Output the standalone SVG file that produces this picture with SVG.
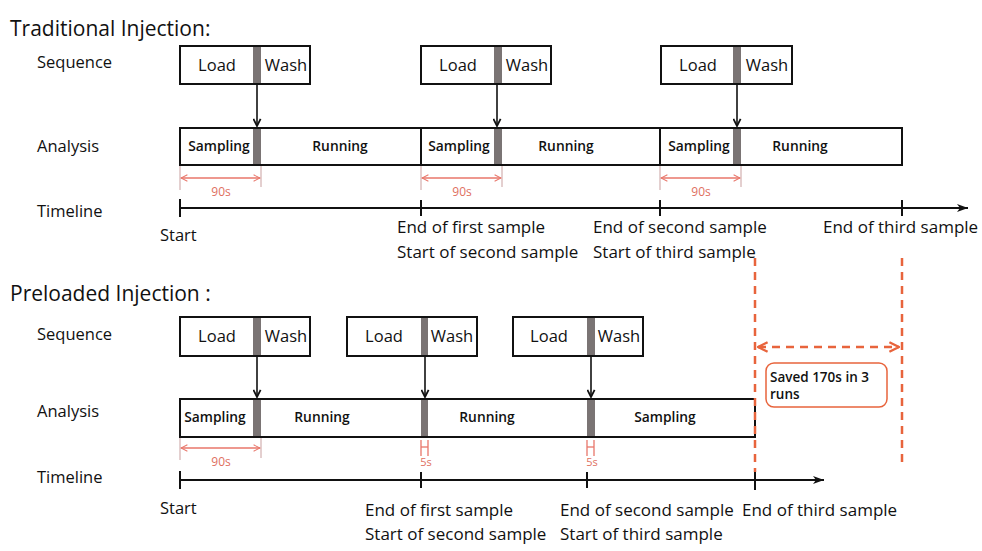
<svg xmlns="http://www.w3.org/2000/svg" width="982" height="551" viewBox="0 0 982 551">
<defs>
<style>
text{font-family:"Open Sans","Noto Sans","DejaVu Sans",sans-serif;fill:#111}
.title{font-size:21px}
.lbl{font-size:16.5px}
.tlb{font-size:17px}
.bx{font-size:16.5px;text-anchor:middle}
.an{font-size:13.8px;font-weight:600;text-anchor:middle}
.box{fill:#fff;stroke:#111;stroke-width:2}
.gray{fill:#7a7474}
.conn{stroke:#111;stroke-width:1.6;fill:none}
.tl{stroke:#111;stroke-width:2;fill:none}
.tick{stroke:#111;stroke-width:2}
.meas{stroke:#e8766a;stroke-width:1.3;fill:none}
.ext{stroke:#c9a0a0;stroke-width:1}
.mt{font-size:12px;fill:#e0705f;text-anchor:middle}
.dash{stroke:#e8643c;stroke-width:2.5;stroke-dasharray:8 6;fill:none}
.note{font-size:13.5px;font-weight:600}
</style>
<marker id="ah" viewBox="0 0 10 10" refX="9" refY="5" markerWidth="9" markerHeight="9" orient="auto-start-reverse" markerUnits="userSpaceOnUse">
<path d="M1,1 L9,5 L1,9" fill="none" stroke="#111" stroke-width="2"/>
</marker>
<marker id="tah" viewBox="0 0 12 10" refX="11" refY="5" markerWidth="12" markerHeight="10" orient="auto" markerUnits="userSpaceOnUse">
<path d="M0,1 L11,5 L0,9 L3,5 Z" fill="#111"/>
</marker>
<marker id="mah" viewBox="0 0 10 10" refX="9" refY="5" markerWidth="8" markerHeight="8" orient="auto-start-reverse" markerUnits="userSpaceOnUse">
<path d="M1,1 L9,5 L1,9" fill="none" stroke="#e8766a" stroke-width="1.3"/>
</marker>
<marker id="oah" viewBox="0 0 10 10" refX="9" refY="5" markerWidth="12" markerHeight="12" orient="auto-start-reverse" markerUnits="userSpaceOnUse">
<path d="M1,1 L9,5 L1,9" fill="none" stroke="#e8643c" stroke-width="2"/>
</marker>
</defs>
<rect width="982" height="551" fill="#fff"/>

<!-- Traditional section -->
<g id="trad-labels">
<text class="title" x="10" y="36">Traditional Injection:</text>
<text class="lbl" x="37" y="68">Sequence</text>
<text class="lbl" x="37" y="152">Analysis</text>
<text class="lbl" x="37" y="217">Timeline</text>
</g>

<g id="trad-seq1">
<rect class="box" x="180" y="46" width="130" height="38"/>
<rect class="gray" x="253" y="47" width="8" height="36"/>
<text class="bx" x="217" y="71">Load</text>
<text class="bx" x="286" y="71">Wash</text>
</g>
<g id="trad-seq2">
<rect class="box" x="421" y="46" width="130" height="38"/>
<rect class="gray" x="494" y="47" width="8" height="36"/>
<text class="bx" x="458" y="71">Load</text>
<text class="bx" x="527" y="71">Wash</text>
</g>
<g id="trad-seq3">
<rect class="box" x="661" y="46" width="131" height="38"/>
<rect class="gray" x="733" y="47" width="8" height="36"/>
<text class="bx" x="698" y="71">Load</text>
<text class="bx" x="767" y="71">Wash</text>
</g>

<g id="trad-analysis">
<rect class="box" x="180" y="128" width="722" height="37"/>
<line class="tick" x1="421" y1="128" x2="421" y2="165"/>
<line class="tick" x1="660" y1="128" x2="660" y2="165"/>
<rect class="gray" x="253" y="129" width="8" height="35"/>
<rect class="gray" x="494" y="129" width="8" height="35"/>
<rect class="gray" x="733" y="129" width="8" height="35"/>
<text class="an" x="219" y="151">Sampling</text>
<text class="an" x="340" y="151">Running</text>
<text class="an" x="459" y="151">Sampling</text>
<text class="an" x="566" y="151">Running</text>
<text class="an" x="699" y="151">Sampling</text>
<text class="an" x="800" y="151">Running</text>
</g>

<g id="trad-measure">
<line class="ext" x1="180" y1="166" x2="180" y2="190"/>
<line class="ext" x1="261" y1="166" x2="261" y2="187"/>
<line class="meas" x1="181" y1="178" x2="260" y2="178" marker-start="url(#mah)" marker-end="url(#mah)"/>
<text class="mt" x="221" y="196">90s</text>
<line class="ext" x1="421" y1="166" x2="421" y2="190"/>
<line class="ext" x1="502" y1="166" x2="502" y2="187"/>
<line class="meas" x1="422" y1="178" x2="501" y2="178" marker-start="url(#mah)" marker-end="url(#mah)"/>
<text class="mt" x="462" y="196">90s</text>
<line class="ext" x1="660" y1="166" x2="660" y2="190"/>
<line class="ext" x1="741" y1="166" x2="741" y2="187"/>
<line class="meas" x1="661" y1="178" x2="740" y2="178" marker-start="url(#mah)" marker-end="url(#mah)"/>
<text class="mt" x="701" y="196">90s</text>
</g>

<g id="trad-timeline">
<line class="tl" x1="180" y1="208" x2="968" y2="208" marker-end="url(#tah)"/>
<line class="tick" x1="180" y1="199" x2="180" y2="217"/>
<line class="tick" x1="421" y1="200" x2="421" y2="216"/>
<line class="tick" x1="660" y1="200" x2="660" y2="216"/>
<line class="tick" x1="902" y1="200" x2="902" y2="216"/>
<text class="lbl" x="160" y="241">Start</text>
<text class="tlb" x="397" y="233">End of first sample</text>
<text class="tlb" x="397" y="258">Start of second sample</text>
<text class="tlb" x="593" y="233">End of second sample</text>
<text class="tlb" x="593" y="258">Start of third sample</text>
<text class="tlb" x="823" y="233">End of third sample</text>
</g>

<!-- Preloaded section -->
<g id="pre-labels">
<text class="title" x="10" y="301">Preloaded Injection :</text>
<text class="lbl" x="37" y="340">Sequence</text>
<text class="lbl" x="37" y="417">Analysis</text>
<text class="lbl" x="37" y="483">Timeline</text>
</g>

<g id="pre-seq1">
<rect class="box" x="180" y="317" width="130" height="39"/>
<rect class="gray" x="253" y="318" width="8" height="37"/>
<text class="bx" x="217" y="342">Load</text>
<text class="bx" x="286" y="342">Wash</text>
</g>
<g id="pre-seq2">
<rect class="box" x="347" y="317" width="130" height="39"/>
<rect class="gray" x="421" y="318" width="7" height="37"/>
<text class="bx" x="384" y="342">Load</text>
<text class="bx" x="452" y="342">Wash</text>
</g>
<g id="pre-seq3">
<rect class="box" x="513" y="317" width="130" height="39"/>
<rect class="gray" x="587" y="318" width="8" height="37"/>
<text class="bx" x="549" y="342">Load</text>
<text class="bx" x="619" y="342">Wash</text>
</g>

<g id="pre-analysis">
<rect class="box" x="180" y="399" width="575" height="38"/>
<rect class="gray" x="253" y="400" width="8" height="36"/>
<rect class="gray" x="421" y="400" width="7" height="36"/>
<rect class="gray" x="587" y="400" width="8" height="36"/>
<text class="an" x="215" y="422">Sampling</text>
<text class="an" x="322" y="422">Running</text>
<text class="an" x="487" y="422">Running</text>
<text class="an" x="665" y="422">Sampling</text>
</g>

<g id="pre-measure">
<line class="ext" x1="180" y1="438" x2="180" y2="460"/>
<line class="ext" x1="261" y1="438" x2="261" y2="458"/>
<line class="meas" x1="181" y1="448" x2="260" y2="448" marker-start="url(#mah)" marker-end="url(#mah)"/>
<text class="mt" x="221" y="466">90s</text>
<line class="meas" x1="421" y1="440" x2="421" y2="456"/>
<line class="meas" x1="428" y1="440" x2="428" y2="456"/>
<line class="meas" x1="421" y1="447" x2="428" y2="447"/>
<text class="mt" x="426" y="466" style="font-size:11px">5s</text>
<line class="meas" x1="587" y1="440" x2="587" y2="456"/>
<line class="meas" x1="594" y1="440" x2="594" y2="456"/>
<line class="meas" x1="587" y1="447" x2="594" y2="447"/>
<text class="mt" x="592" y="466" style="font-size:11px">5s</text>
</g>

<g id="pre-timeline">
<line class="tl" x1="180" y1="480" x2="824" y2="480" marker-end="url(#tah)"/>
<line class="tick" x1="180" y1="471" x2="180" y2="489"/>
<line class="tick" x1="421" y1="472" x2="421" y2="488"/>
<line class="tick" x1="587" y1="472" x2="587" y2="488"/>
<line class="tick" x1="755" y1="471" x2="755" y2="490"/>
<text class="lbl" x="160" y="514">Start</text>
<text class="tlb" x="365" y="516">End of first sample</text>
<text class="tlb" x="365" y="540">Start of second sample</text>
<text class="tlb" x="560" y="516">End of second sample</text>
<text class="tlb" x="560" y="540">Start of third sample</text>
<text class="tlb" x="742" y="516">End of third sample</text>
</g>

<g id="saved-note">
<rect x="766" y="363" width="121" height="44" rx="8" fill="#fff" stroke="#e8643c" stroke-width="1.5"/>
<text class="note" x="770" y="382">Saved 170s in 3</text>
<text class="note" x="770" y="399">runs</text>
</g>

<g id="connectors">
<line class="conn" x1="257" y1="85" x2="257" y2="126" marker-end="url(#ah)"/>
<line class="conn" x1="497" y1="85" x2="497" y2="126" marker-end="url(#ah)"/>
<line class="conn" x1="737" y1="85" x2="737" y2="126" marker-end="url(#ah)"/>
<line class="conn" x1="257" y1="357" x2="257" y2="397" marker-end="url(#ah)"/>
<line class="conn" x1="425" y1="357" x2="425" y2="397" marker-end="url(#ah)"/>
<line class="conn" x1="591" y1="357" x2="591" y2="397" marker-end="url(#ah)"/>
<line class="dash" x1="755" y1="258" x2="755" y2="472"/>
<line class="dash" x1="902" y1="258" x2="902" y2="468"/>
<line class="dash" x1="758" y1="347" x2="899" y2="347" marker-start="url(#oah)" marker-end="url(#oah)"/>
</g>
</svg>
